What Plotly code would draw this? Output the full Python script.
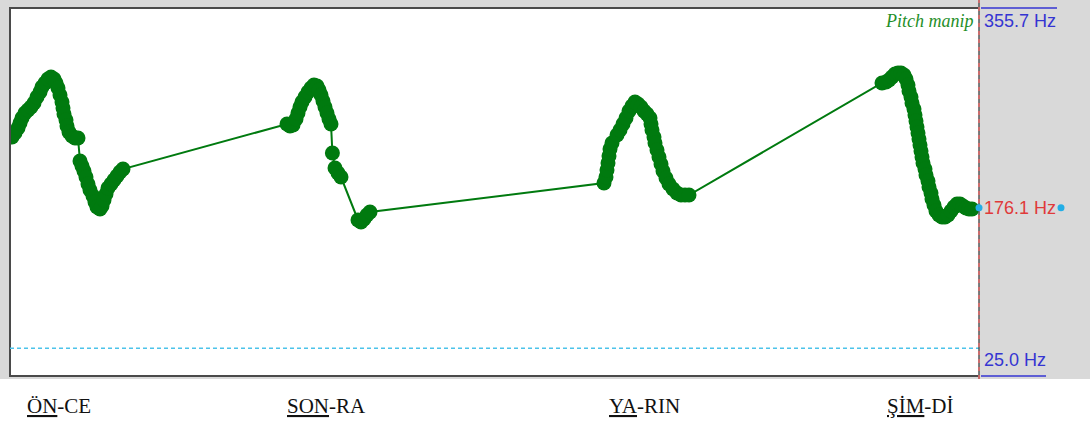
import plotly.graph_objects as go

# Canvas and plot-area geometry (pixels)
W, H = 1090, 421
ML, MR, MT, MB = 10, 111, 8, 45
PW = W - ML - MR
PH = H - MT - MB


def px_x(px):
    return (px - ML) / PW


def px_y(py):
    return (H - MB - py) / PH


# F0 track, time in ms, pitch in Hz, one block per word
once_t = [10, 25, 40, 50, 60, 75, 90, 105, 120, 135, 150, 160, 175, 190, 205,
          220, 230, 240, 250, 260, 265, 270, 280, 285, 295, 310, 325, 340,
          350, 360, 370, 380, 390, 400, 415, 425, 435, 450, 460, 470, 480,
          490, 505, 520, 535, 550, 565]
once_hz = [239.8, 243.4, 247.8, 252.3, 256.8, 261.3, 264.0, 266.7, 270.3,
           275.7, 280.2, 284.7, 288.3, 291.9, 293.7, 291.9, 288.3, 283.8,
           277.5, 271.2, 265.8, 260.4, 255.0, 249.6, 244.2, 240.7, 238.9,
           238.9,
           218.2, 213.7, 209.2, 203.8, 197.5, 192.1, 186.7, 181.4, 176.9,
           175.1, 177.8, 183.2, 188.5, 193.9, 197.5, 201.1, 204.7, 208.3,
           211.0]

sonra_t = [1385, 1400, 1415, 1430, 1440, 1450, 1460, 1475, 1490, 1505, 1520,
           1535, 1545, 1555, 1565, 1575, 1585, 1595, 1605, 1612, 1625, 1640,
           1655, 1740, 1755, 1770, 1785, 1800]
sonra_hz = [251.4, 249.6, 250.5, 255.9, 261.3, 266.7, 271.2, 275.7, 280.2,
            283.8, 286.5, 285.6, 282.0, 277.5, 272.1, 266.7, 261.3, 255.9,
            251.4, 225.4, 211.9, 207.4, 203.8, 165.2, 163.4, 166.1, 169.7,
            172.4]

yarin_t = [2970, 2980, 2985, 2990, 2995, 3000, 3010, 3035, 3050, 3065, 3080,
           3095, 3110, 3125, 3140, 3155, 3170, 3185, 3200, 3205, 3210, 3220,
           3225, 3235, 3245, 3255, 3265, 3280, 3295, 3315, 3335, 3355, 3375,
           3395]
yarin_hz = [198.4, 203.8, 210.1, 216.4, 222.7, 229.0, 234.4, 241.6, 246.0,
            251.4, 256.8, 263.1, 267.6, 271.2, 269.4, 266.7, 263.1, 260.4,
            256.8, 251.4, 246.0, 239.8, 234.4, 228.1, 221.8, 215.5, 209.2,
            202.9, 197.5, 193.0, 189.4, 187.6, 187.6, 187.6]

simdi_t = [4360, 4380, 4395, 4410, 4425, 4440, 4455, 4470, 4480, 4490, 4495,
           4505, 4510, 4520, 4525, 4530, 4535, 4540, 4545, 4550, 4555, 4560,
           4565, 4575, 4580, 4590, 4595, 4605, 4610, 4620, 4630, 4645, 4660,
           4675, 4690, 4705, 4720, 4735, 4750, 4765, 4780, 4795, 4810]
simdi_hz = [288.3, 289.2, 291.0, 293.7, 296.4, 297.3, 297.3, 295.5, 291.9,
            286.5, 281.1, 275.7, 270.3, 264.9, 259.5, 254.1, 248.7, 243.4,
            238.0, 232.6, 227.2, 221.8, 216.4, 211.0, 205.6, 200.2, 194.8,
            189.4, 184.1, 178.7, 173.3, 169.7, 167.9, 167.9, 169.7, 173.3,
            176.9, 179.6, 179.6, 177.8, 176.0, 175.1, 175.1]

# Cursor (end of selection) and the pitch value shown there
cursor_t = 4845
cursor_hz = 176.1
f_top, f_bottom = 355.7, 25.0
f_floor = 50.0

# Word labels (stressed syllable underlined) and their onset times
words = ["<u>ÖN</u>-CE", "<u>SON</u>-RA", "<u>YA</u>-RIN", "<u>ŞİM</u>-Dİ"]
word_t = [75, 1375, 2985, 4375]

track_t = once_t + sonra_t + yarin_t + simdi_t
track_hz = once_hz + sonra_hz + yarin_hz + simdi_hz

GREEN = "#007a0f"
BLUE = "#3535d2"
RED = "#e03a3a"
CYAN = "#22aee6"
PANEL = "#d9d9d9"
FRAME = "#4a4a4a"
SERIF = "Liberation Serif, Times New Roman, serif"
SANS = "Liberation Sans, Arial, sans-serif"

fig = go.Figure()

fig.add_trace(go.Scatter(
    x=track_t, y=track_hz, mode="lines+markers",
    line=dict(color=GREEN, width=2),
    marker=dict(color=GREEN, size=15, line=dict(width=0)),
    hoverinfo="skip", showlegend=False,
))

# thin tail of the track up to the cursor
fig.add_trace(go.Scatter(
    x=[track_t[-1], cursor_t], y=[track_hz[-1], cursor_hz], mode="lines",
    line=dict(color=GREEN, width=2), hoverinfo="skip", showlegend=False,
))

shapes = []
# grey surround and right-hand panel
for x0, x1, y0, y1 in [(0, ML, 0, 379), (ML, 979, 0, MT), (ML, 979, 376, 379),
                       (979, W, 0, 379)]:
    shapes.append(dict(type="rect", xref="paper", yref="paper",
                       x0=px_x(x0), x1=px_x(x1), y0=px_y(y1), y1=px_y(y0),
                       fillcolor=PANEL, line=dict(width=0), layer="below"))
# plot frame
shapes += [
    dict(type="line", xref="paper", yref="paper", x0=0, x1=0,
         y0=px_y(377), y1=px_y(7), line=dict(color=FRAME, width=2)),
    dict(type="line", xref="paper", yref="paper", x0=0, x1=1, y0=1, y1=1,
         line=dict(color=FRAME, width=2)),
    dict(type="line", xref="paper", yref="paper", x0=0, x1=1, y0=0, y1=0,
         line=dict(color=FRAME, width=2)),
]
# pitch floor line
shapes.append(dict(type="line", xref="paper", yref="y", x0=0, x1=1,
                   y0=f_floor, y1=f_floor,
                   line=dict(color="#4cc3ea", width=1.5, dash="4px,3px")))
# selection boundary
shapes += [
    dict(type="line", xref="paper", yref="paper", x0=1, x1=1,
         y0=px_y(379), y1=px_y(0), line=dict(color="#555555", width=1.5)),
    dict(type="line", xref="paper", yref="paper", x0=1, x1=1,
         y0=px_y(379), y1=px_y(0),
         line=dict(color="#e86a6a", width=1.5, dash="4px,4px")),
]
# blue range marks at top and bottom of the readout column
shapes += [
    dict(type="line", xref="paper", yref="paper", x0=px_x(981), x1=px_x(1057),
         y0=1, y1=1, line=dict(color=BLUE, width=1.5)),
    dict(type="line", xref="paper", yref="paper", x0=px_x(981), x1=px_x(1046),
         y0=0, y1=0, line=dict(color=BLUE, width=1.5)),
]
# cursor value dots on both sides of the readout
for cx in (979, 1061):
    shapes.append(dict(type="circle", xref="paper", yref="y",
                       xsizemode="pixel", ysizemode="pixel",
                       xanchor=px_x(cx), yanchor=cursor_hz,
                       x0=-3.5, x1=3.5, y0=-3.5, y1=3.5,
                       fillcolor=CYAN, line=dict(width=0)))

annotations = [
    dict(text=f"{f_top:.1f} Hz", xref="paper", yref="paper", x=px_x(982),
         y=px_y(21), xanchor="left", yanchor="middle", showarrow=False,
         font=dict(family=SANS, size=18, color=BLUE)),
    dict(text=f"{cursor_hz:.1f} Hz", xref="paper", yref="y", x=px_x(982),
         y=cursor_hz, xanchor="left", yanchor="middle", showarrow=False,
         font=dict(family=SANS, size=18, color=RED)),
    dict(text=f"{f_bottom:.1f} Hz", xref="paper", yref="paper", x=px_x(982),
         y=px_y(360), xanchor="left", yanchor="middle", showarrow=False,
         font=dict(family=SANS, size=18, color=BLUE)),
    dict(text="<i>Pitch manip</i>", xref="paper", yref="paper", x=px_x(976),
         y=px_y(21), xanchor="right", yanchor="middle", showarrow=False,
         font=dict(family=SERIF, size=18, color="#1f8f2a")),
]
for w, t in zip(words, word_t):
    annotations.append(dict(
        text=w, xref="x", yref="paper", x=t, y=px_y(406),
        xanchor="left", yanchor="middle", showarrow=False,
        font=dict(family=SERIF, size=21, color="#111111")))

fig.update_layout(
    width=W, height=H,
    margin=dict(l=ML, r=MR, t=MT, b=MB, pad=0),
    paper_bgcolor="white", plot_bgcolor="white",
    xaxis=dict(range=[0, cursor_t], visible=False, fixedrange=True),
    yaxis=dict(range=[f_bottom, f_top], visible=False, fixedrange=True),
    shapes=shapes, annotations=annotations,
    showlegend=False,
)

fig.write_html("out.html")
